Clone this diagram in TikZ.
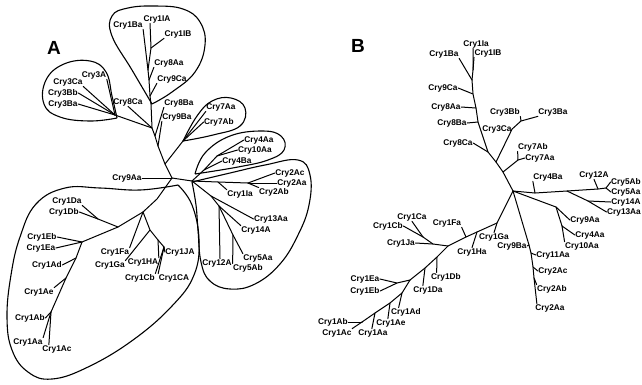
\documentclass[tikz,border=0pt]{standalone}
\usepackage{fontspec}
\newfontfamily\labfont{Liberation Sans}
\usetikzlibrary{calc}
\tikzset{
  lab/.style={font=\labfont\bfseries\fontsize{8.3}{9}\selectfont, inner sep=0.4pt},
  panel/.style={font=\labfont\bfseries\fontsize{19}{20}\selectfont, inner sep=0pt},
  br/.style={line width=1pt, line join=round, line cap=round},
  grp/.style={line width=1.1pt, line join=round},
}
\begin{document}
\begin{tikzpicture}[x=1pt,y=-1pt]
\fill[white] (0,0) rectangle (642,384);
\useasboundingbox (0,0) rectangle (642,384);

% ================= Panel A =================
\node[panel] (pA) at (54,48) {A};
\node[lab] (a1Ba) at (128,25) {Cry1Ba};
\node[lab] (a1IA) at (157,19) {Cry1IA};
\node[lab] (a1IB) at (178,34) {Cry1IB};
\node[lab] (a8Aa) at (169,63) {Cry8Aa};
\node[lab] (a9Ca) at (172,79) {Cry9Ca};
\node[lab] (a3A) at (94,75) {Cry3A};
\node[lab] (a3Ca) at (68,82) {Cry3Ca};
\node[lab] (a3Bb) at (63,93) {Cry3Bb};
\node[lab] (a3Ba) at (63,104) {Cry3Ba};
\node[lab] (a8Ca) at (128,102) {Cry8Ca};
\node[lab] (a8Ba) at (179,103) {Cry8Ba};
\node[lab] (a9Ba) at (177,117) {Cry9Ba};
\node[lab] (a7Aa) at (221,107) {Cry7Aa};
\node[lab] (a7Ab) at (219,122) {Cry7Ab};
\node[lab] (a4Aa) at (259,140) {Cry4Aa};
\node[lab] (a10Aa) at (255,150) {Cry10Aa};
\node[lab] (a4Ba) at (237,161) {Cry4Ba};
\node[lab] (a9Aa) at (127,178) {Cry9Aa};
\node[lab] (a2Ac) at (290,173) {Cry2Ac};
\node[lab] (a2Aa) at (292,183) {Cry2Aa};
\node[lab] (a2Ab) at (274,192) {Cry2Ab};
\node[lab] (a1Ia) at (240,194) {Cry1Ia};
\node[lab] (a13Aa) at (271,219) {Cry13Aa};
\node[lab] (a14A) at (256,230) {Cry14A};
\node[lab] (a12A) at (217,263) {Cry12A};
\node[lab] (a5Aa) at (258,258) {Cry5Aa};
\node[lab] (a5Ab) at (248,268) {Cry5Ab};
\node[lab] (a1Da) at (67,201) {Cry1Da};
\node[lab] (a1Db) at (64,212) {Cry1Db};
\node[lab] (a1Eb) at (42,237) {Cry1Eb};
\node[lab] (a1Ea) at (41,248) {Cry1Ea};
\node[lab] (a1Ad) at (47,265) {Cry1Ad};
\node[lab] (a1Fa) at (115,252) {Cry1Fa};
\node[lab] (a1Ga) at (110,265) {Cry1Ga};
\node[lab] (a1HA) at (143,262) {Cry1HA};
\node[lab] (a1JA) at (180,252) {Cry1JA};
\node[lab] (a1Cb) at (140,278) {Cry1Cb};
\node[lab] (a1CA) at (174,278) {Cry1CA};
\node[lab] (a1Ae) at (39,292) {Cry1Ae};
\node[lab] (a1Ab) at (30,318) {Cry1Ab};
\node[lab] (a1Aa) at (28,342) {Cry1Aa};
\node[lab] (a1Ac) at (57,349) {Cry1Ac};

% junctions A
\coordinate (Jt) at (151,104);
\coordinate (t0) at (150,96);
\coordinate (t1b) at (149,80);
\coordinate (t1) at (148,70);
\coordinate (t4) at (151,48);
\coordinate (m1) at (152,128);
\coordinate (m1b) at (155,136);
\coordinate (m2) at (158,146);
\coordinate (m3) at (165,164);
\coordinate (C) at (172,178);
\coordinate (L3) at (115,115);
\coordinate (L7) at (183,141);
\coordinate (R) at (192,181);
\coordinate (q0) at (204,170);
\coordinate (q1) at (217,156);
\coordinate (r1) at (218,182);
\coordinate (r2) at (248,183);
\coordinate (s1) at (211,196);
\coordinate (s2) at (219,206);
\coordinate (s3) at (233,235);
\coordinate (b1) at (157,199);
\coordinate (f0) at (143,212);
\coordinate (b3) at (118,227);
\coordinate (d0) at (98,219);
\coordinate (e0) at (82,242);
\coordinate (g1) at (76,258);
\coordinate (g2) at (66,278);
\coordinate (g3) at (51,312);
\coordinate (f1) at (150,230);
\coordinate (f2) at (158,240);
\coordinate (f3) at (164,247);

% tree A
\draw[br] (Jt) -- (t0) -- (t1b) -- (t1) -- (a1Ba.south east);
\draw[br] (t1) -- (t4) -- ($(a1IA.south west)+(7,0)$);
\draw[br] (t4) -- (a1IB.south west);
\draw[br] (t1b) -- (a8Aa.south west);
\draw[br] (t0) -- (a9Ca.south west);
\draw[br] (Jt) -- (m1) -- (m1b) -- (m2) -- (m3) -- (C);
\draw[br] (m1) -- (L3);
\draw[br] (L3) -- (a3A.south east);
\draw[br] (L3) -- (a3Ca.south east);
\draw[br] (L3) -- (a3Bb.east);
\draw[br] (L3) -- (a3Ba.east);
\draw[br] (m1) -- (a8Ca.south);
\draw[br] (m1b) -- (a8Ba.south west);
\draw[br] (m2) -- (a9Ba.south west);
\draw[br] (m3) -- (L7);
\draw[br] (L7) -- (a7Aa.south west);
\draw[br] (L7) -- (a7Ab.west);
\draw[br] (C) -- (a9Aa.east);
\draw[br] (C) -- (R);
\draw[br] (R) -- (q0) -- (q1) -- (a4Aa.west);
\draw[br] (q1) -- (a10Aa.west);
\draw[br] (q0) -- (a4Ba.west);
\draw[br] (R) -- (r1) -- (r2) -- (a2Ac.west);
\draw[br] (r2) -- (a2Aa.west);
\draw[br] (r2) -- (a2Ab.north west);
\draw[br] (r1) -- (a1Ia.north west);
\draw[br] (R) -- (s1) -- (a13Aa.west);
\draw[br] (s1) -- (s2) -- (a14A.north west);
\draw[br] (s2) -- ($(a12A.north)+(3,0)$);
\draw[br] (s2) -- (s3) -- (a5Aa.north west);
\draw[br] (s3) -- (a5Ab.north west);
\draw[br] (C) -- (b1) -- (f0) -- (b3) -- (e0) -- (g1) -- (g2) -- (g3);
\draw[br] (a1Db.east) -- (d0) -- (b3);
\draw[br] (d0) -- (a1Da.south east);
\draw[br] (e0) -- (a1Eb.east);
\draw[br] (e0) -- (a1Ea.east);
\draw[br] (g1) -- (a1Ad.east);
\draw[br] (g2) -- (a1Ae.north east);
\draw[br] (g3) -- (a1Ab.east);
\draw[br] (g3) -- (a1Aa.north east);
\draw[br] (g3) -- ($(a1Ac.north west)+(7,0)$);
\draw[br] (f0) -- (a1Fa.north east);
\draw[br] (f0) -- (f1) -- (a1Ga.north east);
\draw[br] (f1) -- (f2) -- (a1HA.north east);
\draw[br] (f2) -- (f3) -- (a1JA.west);
\draw[br] (f3) -- (a1CA.north west);
\draw[br] (f3) -- (a1Cb.north east);

% group outlines A
\draw[grp] plot[smooth, tension=0.7] coordinates {(117,118) (112,96) (106,72) (90,61) (64,64) (46,80) (44,104) (60,117) (90,121) (117,118)};
\draw[grp] plot[smooth, tension=0.7] coordinates {(152,104) (132,70) (112,36) (112,16) (128,8) (155,6) (183,9) (200,22) (205,45) (195,72) (172,92) (152,104)};
\draw[grp] plot[smooth, tension=0.7] coordinates {(183,141) (197,116) (212,101) (231,98) (245,108) (240,126) (213,135) (183,141)};
\draw[grp] plot[smooth, tension=0.7] coordinates {(195,174) (205,153) (230,136) (262,131) (281,136) (284,150) (268,160) (238,167) (195,174)};
\draw[grp] plot[smooth, tension=0.7] coordinates {(192,182) (230,173) (265,165) (298,160) (310,175) (309,205) (298,235) (280,264) (255,284) (230,289) (210,281) (201,262) (198,230) (196,205) (192,182)};
\draw[grp] plot[smooth, tension=0.7] coordinates {(178,185) (140,190) (100,188) (65,188) (36,204) (20,237) (11,275) (7,317) (12,350) (28,372) (52,379) (88,367) (133,340) (172,306) (194,275) (199,240) (192,205) (178,185)};

% ================= Panel B =================
\node[panel] (pB) at (358,46) {B};
\node[lab] (b1Ba) at (444,54) {Cry1Ba};
\node[lab] (b1Ia) at (476,44) {Cry1Ia};
\node[lab] (b1IB) at (488,53) {Cry1IB};
\node[lab] (b9Ca) at (443,88) {Cry9Ca};
\node[lab] (b8Aa) at (446,107) {Cry8Aa};
\node[lab] (b8Ba) at (452,123) {Cry8Ba};
\node[lab] (b8Ca) at (458,143) {Cry8Ca};
\node[lab] (b3Bb) at (505,112) {Cry3Bb};
\node[lab] (b3Ba) at (553,112) {Cry3Ba};
\node[lab] (b3Ca) at (497,129) {Cry3Ca};
\node[lab] (b7Ab) at (533,147) {Cry7Ab};
\node[lab] (b7Aa) at (540,158) {Cry7Aa};
\node[lab] (b4Ba) at (548,177) {Cry4Ba};
\node[lab] (b12A) at (594,175) {Cry12A};
\node[lab] (b5Ab) at (626,182) {Cry5Ab};
\node[lab] (b5Aa) at (626,192) {Cry5Aa};
\node[lab] (b14A) at (626,202) {Cry14A};
\node[lab] (b13Aa) at (624,212) {Cry13Aa};
\node[lab] (b9Aa) at (585,220) {Cry9Aa};
\node[lab] (b4Aa) at (590,235) {Cry4Aa};
\node[lab] (b10Aa) at (582,246) {Cry10Aa};
\node[lab] (b1Ga) at (494,237) {Cry1Ga};
\node[lab] (b9Ba) at (512,246) {Cry9Ba};
\node[lab] (b1Ha) at (472,252) {Cry1Ha};
\node[lab] (b1Fa) at (447,223) {Cry1Fa};
\node[lab] (b1Ca) at (412,217) {Cry1Ca};
\node[lab] (b1Cb) at (388,226) {Cry1Cb};
\node[lab] (b1Ja) at (401,243) {Cry1Ja};
\node[lab] (b11Aa) at (553,255) {Cry11Aa};
\node[lab] (b2Ac) at (553,271) {Cry2Ac};
\node[lab] (b2Ab) at (552,289) {Cry2Ab};
\node[lab] (b2Aa) at (550,308) {Cry2Aa};
\node[lab] (b1Ea) at (365,279) {Cry1Ea};
\node[lab] (b1Eb) at (365,291) {Cry1Eb};
\node[lab] (b1Db) at (446,277) {Cry1Db};
\node[lab] (b1Da) at (428,290) {Cry1Da};
\node[lab] (b1Ad) at (406,312) {Cry1Ad};
\node[lab] (b1Ae) at (391,323) {Cry1Ae};
\node[lab] (b1Ab) at (333,322) {Cry1Ab};
\node[lab] (b1Ac) at (337,333) {Cry1Ac};
\node[lab] (b1Aa) at (373,333) {Cry1Aa};

% junctions B
\coordinate (u0) at (473,70);
\coordinate (u1) at (472,80);
\coordinate (u2) at (473,94);
\coordinate (u3) at (476,108);
\coordinate (u4) at (478,122);
\coordinate (u5) at (488,152);
\coordinate (v0) at (496,162);
\coordinate (v2) at (521,121);
\coordinate (w0) at (503,172);
\coordinate (w1) at (518,160);
\coordinate (CB) at (513,191);
\coordinate (x1) at (535,193);
\coordinate (x2) at (567,191);
\coordinate (x3) at (598,189);
\coordinate (x4) at (606,188);
\coordinate (x5) at (588,201);
\coordinate (y1) at (556,207);
\coordinate (y2) at (562,226);
\coordinate (z1) at (529,245);
\coordinate (z2) at (531,253);
\coordinate (z3) at (533,267);
\coordinate (z4) at (534,278);
\coordinate (k0) at (497,223);
\coordinate (k1) at (477,232);
\coordinate (k2) at (466,237);
\coordinate (k3) at (448,246);
\coordinate (k4) at (433,244);
\coordinate (k5) at (423,237);
\coordinate (k6) at (437,257);
\coordinate (k7) at (425,268);
\coordinate (k8) at (410,280);
\coordinate (k9) at (397,283);
\coordinate (k10) at (402,293);
\coordinate (k11) at (390,303);
\coordinate (k12) at (375,313);
\coordinate (k13) at (362,322);

% tree B
\draw[br] (b1Ba.south east) -- (u1) -- (u2) -- (u3) -- (u4) -- (u5) -- (v0) -- (w0) -- (CB);
\draw[br] (u1) -- (u0) -- ($(b1Ia.south)+(-3,0)$);
\draw[br] (u0) -- (b1IB.south west);
\draw[br] (u2) -- (b9Ca.east);
\draw[br] (u3) -- (b8Aa.east);
\draw[br] (u4) -- (b8Ba.east);
\draw[br] (u5) -- (b8Ca.east);
\draw[br] (v0) -- (b3Ca.east) -- (v2) -- (b3Bb.south east);
\draw[br] (v2) -- (b3Ba.south west);
\draw[br] (w0) -- (w1) -- (b7Ab.south west);
\draw[br] (w1) -- (b7Aa.west);
\draw[br] (CB) -- (x1) -- (x2) -- (x3) -- (x4) -- (b5Ab.west);
\draw[br] (x4) -- (b5Aa.west);
\draw[br] (x3) -- (b12A.south);
\draw[br] (x1) -- (b4Ba.south west);
\draw[br] (x2) -- (x5) -- (b14A.west);
\draw[br] (x5) -- (b13Aa.west);
\draw[br] (CB) -- (y1) -- (b9Aa.west);
\draw[br] (y1) -- (y2) -- (b4Aa.west);
\draw[br] (y2) -- (b10Aa.north west);
\draw[br] (CB) -- (z1) -- (z2) -- (z3) -- (z4) -- ($(b2Aa.north west)+(2,0)$);
\draw[br] (z1) -- (b9Ba.east);
\draw[br] (z2) -- (b11Aa.west);
\draw[br] (z3) -- (b2Ac.west);
\draw[br] (z4) -- (b2Ab.north west);
\draw[br] (CB) -- (k0) -- (k1) -- (k2) -- (k3) -- (k6) -- (k7) -- (k8) -- (k10) -- (k11) -- (k12) -- (k13);
\draw[br] (k0) -- (b1Ga.north);
\draw[br] (k1) -- (b1Ha.north);
\draw[br] (k2) -- (b1Fa.south east);
\draw[br] (k3) -- (k4) -- (b1Ja.east);
\draw[br] (k4) -- (k5) -- (b1Ca.south);
\draw[br] (k5) -- (b1Cb.east);
\draw[br] (k6) -- ($(b1Db.north west)+(6,0)$);
\draw[br] (k7) -- ($(b1Da.north west)+(10,0)$);
\draw[br] (k8) -- (k9) -- (b1Ea.east);
\draw[br] (k9) -- (b1Eb.east);
\draw[br] (k10) -- ($(b1Ad.north west)+(8,0)$);
\draw[br] (k11) -- ($(b1Ae.north west)+(12,0)$);
\draw[br] (k12) -- ($(b1Aa.north west)+(14,0)$);
\draw[br] (k13) -- (b1Ab.east);
\draw[br] (k13) -- (b1Ac.north east);
\end{tikzpicture}
\end{document}
